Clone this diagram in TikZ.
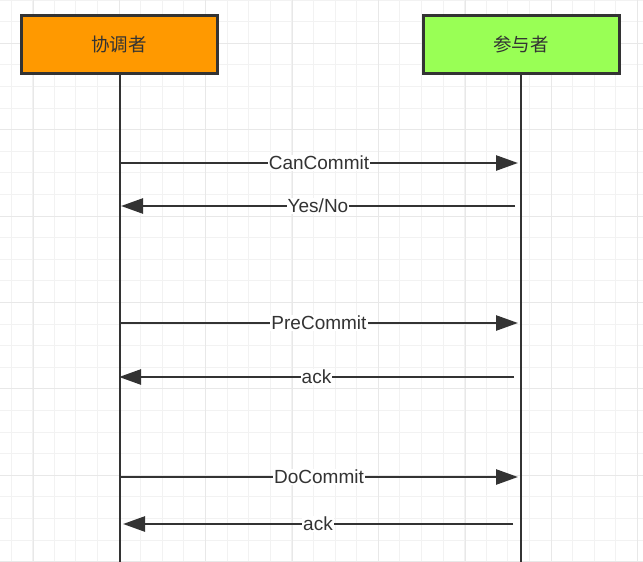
\documentclass[tikz,border=0pt]{standalone}
\usepackage{fontspec}
\setmainfont{Liberation Sans}
\newfontfamily\cjk{Noto Sans CJK SC}
\usetikzlibrary{arrows.meta}

\definecolor{coordorange}{HTML}{FF9900}
\definecolor{partgreen}{HTML}{99FF55}
\definecolor{linegray}{HTML}{333333}
\definecolor{gridminor}{HTML}{F2F2F2}
\definecolor{gridmajor}{HTML}{E8E8E8}

\tikzset{
    actor/.style={draw=linegray, line width=3pt, minimum width=196pt, minimum height=58pt,
        inner sep=0pt, text=linegray, font=\cjk\fontsize{18.5}{20}\selectfont},
    lifeline/.style={draw=linegray, line width=2.5pt},
    msg/.style={draw=linegray, line width=2.5pt, -{Triangle[length=22pt, width=15pt]}},
    msglabel/.style={fill=white, inner sep=1pt, text=linegray, font=\fontsize{19}{20}\selectfont},
}

\begin{document}
\begin{tikzpicture}[x=1pt, y=-1pt]
    \useasboundingbox (0, 0) rectangle (643, 562);

    % background grid
    \begin{scope}
        \clip (0, 0) rectangle (643, 562);
        \fill[white] (0, 0) rectangle (643, 562);
        \draw[gridminor, line width=1pt, step=21.6pt, xshift=11pt] (-43.2, -21.6) grid (664.8, 583.2);
        \draw[gridmajor, line width=1pt, step=86.4pt, xshift=33pt, yshift=-43.2pt] (-86.4, -86.4) grid (691.2, 648);
    \end{scope}

    % actors and lifelines
    \node[actor, fill=coordorange] (coord) at (119, 44) {协调者};
    \node[actor, fill=partgreen] (part) at (521, 44) {参与者};
    \coordinate (coordend) at (120, 562);
    \coordinate (partend) at (521, 562);
    \draw[lifeline] (coord.south -| coordend) -- (coordend);
    \draw[lifeline] (part.south -| partend) -- (partend);

    % phase 1
    \coordinate (c1) at (120, 163);
    \coordinate (p1) at (518, 163);
    \draw[msg] (c1) -- node[msglabel] (canlbl) {CanCommit} (p1);
    \coordinate (p2) at (515, 206);
    \coordinate (c2) at (121, 206);
    \draw[msg] (p2) -- node[msglabel] (yesnolbl) {Yes/No} (c2);

    % phase 2
    \coordinate (c3) at (120, 323);
    \coordinate (p3) at (518, 323);
    \draw[msg] (c3) -- node[msglabel] (prelbl) {PreCommit} (p3);
    \coordinate (p4) at (514, 377);
    \coordinate (c4) at (119, 377);
    \draw[msg] (p4) -- node[msglabel] (ack1lbl) {ack} (c4);

    % phase 3
    \coordinate (c5) at (120, 477);
    \coordinate (p5) at (518, 477);
    \draw[msg] (c5) -- node[msglabel] (dolbl) {DoCommit} (p5);
    \coordinate (p6) at (513, 524);
    \coordinate (c6) at (123, 524);
    \draw[msg] (p6) -- node[msglabel] (ack2lbl) {ack} (c6);
\end{tikzpicture}
\end{document}
